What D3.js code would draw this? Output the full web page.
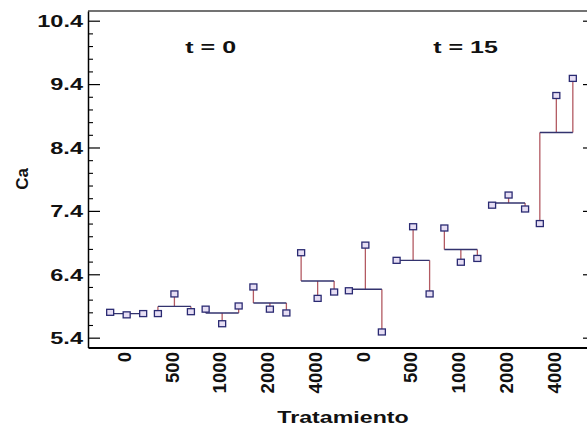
<!DOCTYPE html>
<html><head><meta charset="utf-8">
<script src="https://cdn.jsdelivr.net/npm/d3@7"></script>
<style>html,body{margin:0;padding:0;background:#fff;} svg{display:block;}</style>
</head><body><svg id="c" width="587" height="429"></svg>
<script>
// ---- data ----
const categories = ["0","500","1000","2000","4000","0","500","1000","2000","4000"];
const periods = ["t = 0", "t = 15"];
const periodPos = [1.76, 7.1];          // position of each period label, in category units
const replicates = ["r1","r2","r3"];
const rep1 = [5.80, 5.78, 5.85, 6.20, 6.74, 6.14, 6.62, 7.13, 7.49, 7.20];
const rep2 = [5.76, 6.09, 5.62, 5.85, 6.02, 6.86, 7.15, 6.59, 7.65, 9.22];
const rep3 = [5.78, 5.81, 5.90, 5.79, 6.12, 5.49, 6.09, 6.65, 7.43, 9.49];
const yTicks = [5.4, 6.4, 7.4, 8.4, 9.4, 10.4];
const yTitle = "Ca";
const xTitle = "Tratamiento";

// ---- layout ----
const L = 88, R = 595, T = 11, B = 347.5;
const FONT = "'Liberation Sans', Arial, sans-serif";
const SX = 1.47;
const svg = d3.select("#c");
svg.append("rect").attr("width",587).attr("height",429).attr("fill","#fff");

const x = d3.scalePoint().domain(d3.range(categories.length)).range([L, R]).padding(0.81);
const xl = d3.scaleLinear().domain([0, categories.length - 1]).range([x(0), x(categories.length - 1)]);
const xo = d3.scalePoint().domain(replicates).range([-16.5, 16.5]);
const y = d3.scaleLinear().domain([5.245, 10.553]).range([B, T]);

const groups = categories.map((c, i) => {
  const vals = [rep1[i], rep2[i], rep3[i]];
  return {i, vals, mean: d3.mean(vals)};
});

const minor = d3.range(0, 26).map(k => +(5.4 + k * 0.2).toFixed(1)).filter(v => !yTicks.includes(v));

// top border
svg.append("line").attr("x1", L).attr("x2", R).attr("y1", T).attr("y2", T)
  .attr("stroke", "#444").attr("stroke-width", 1.3);

// left axis
const gl = svg.append("g").attr("transform", `translate(${L},0)`)
  .call(d3.axisLeft(y).tickValues(yTicks).tickSizeInner(-12).tickSizeOuter(0).tickFormat(d3.format(".1f")));
gl.select(".domain").attr("stroke", "#000").attr("stroke-width", 1.5);
gl.selectAll(".tick line").attr("stroke", "#000").attr("stroke-width", 1.2);
gl.selectAll(".tick text")
  .attr("x", 0).attr("dy", "0.36em")
  .attr("transform", `translate(-5,0) scale(${SX},1)`)
  .attr("font-family", FONT).attr("font-weight", "bold").attr("font-size", 16).attr("fill", "#111");
const glm = svg.append("g").attr("transform", `translate(${L},0)`)
  .call(d3.axisLeft(y).tickValues(minor).tickSize(-5).tickFormat(""));
glm.select(".domain").remove();
glm.selectAll(".tick line").attr("stroke", "#000").attr("stroke-width", 1.1);

// right axis
const gr = svg.append("g").attr("transform", `translate(${R},0)`)
  .call(d3.axisRight(y).tickValues(yTicks).tickSizeInner(-12).tickSizeOuter(0).tickFormat(""));
gr.select(".domain").attr("stroke", "#000");
gr.selectAll(".tick line").attr("stroke", "#000").attr("stroke-width", 1.2);
const grm = svg.append("g").attr("transform", `translate(${R},0)`)
  .call(d3.axisRight(y).tickValues(minor).tickSize(-5).tickFormat(""));
grm.select(".domain").remove();
grm.selectAll(".tick line").attr("stroke", "#999");

// bottom axis
const gb = svg.append("g").attr("transform", `translate(0,${B})`)
  .call(d3.axisBottom(x).tickSize(0).tickSizeOuter(0).tickFormat(i => categories[i]));
gb.select(".domain").attr("stroke", "#000").attr("stroke-width", 2);
gb.selectAll(".tick text")
  .attr("transform", "rotate(-90)")
  .attr("x", -4.5).attr("y", 0).attr("dy", "0.2em")
  .attr("text-anchor", "end")
  .attr("font-family", FONT).attr("font-weight", "bold").attr("font-size", 18.6).attr("fill", "#111");

// marks
const g = svg.append("g");
groups.forEach(d => {
  const cx = x(d.i);
  replicates.forEach((r, k) => {
    g.append("line")
      .attr("x1", cx + xo(r)).attr("x2", cx + xo(r))
      .attr("y1", y(d.mean)).attr("y2", y(d.vals[k]))
      .attr("stroke", "#b35a62").attr("stroke-width", 1.3);
  });
  g.append("line")
    .attr("x1", cx + xo(replicates[0])).attr("x2", cx + xo(replicates[2]))
    .attr("y1", y(d.mean)).attr("y2", y(d.mean))
    .attr("stroke", "#33336e").attr("stroke-width", 1.4);
});
groups.forEach(d => {
  const cx = x(d.i);
  replicates.forEach((r, k) => {
    g.append("rect")
      .attr("x", cx + xo(r) - 3.5).attr("y", y(d.vals[k]) - 3)
      .attr("width", 7).attr("height", 6)
      .attr("fill", "#e6def4").attr("stroke", "#2a2a72").attr("stroke-width", 1.3);
  });
});

// period annotations
periods.forEach((p, k) => {
  svg.append("g").attr("transform", `translate(${xl(periodPos[k])},52.5)`)
    .append("text").text(p)
    .attr("transform", `scale(${SX},1)`)
    .attr("text-anchor", "middle")
    .attr("font-family", FONT).attr("font-weight", "bold").attr("font-size", 17).attr("fill", "#111");
});

// axis titles
svg.append("text").text(yTitle)
  .attr("transform", "translate(28,179) rotate(-90)")
  .attr("text-anchor", "middle")
  .attr("font-family", FONT).attr("font-weight", "bold").attr("font-size", 17).attr("fill", "#111");
svg.append("g").attr("transform", "translate(343,423.3)")
  .append("text").text(xTitle)
  .attr("transform", `scale(1.45,1)`)
  .attr("text-anchor", "middle")
  .attr("font-family", FONT).attr("font-weight", "bold").attr("font-size", 16).attr("fill", "#111");
</script>
</body></html>
